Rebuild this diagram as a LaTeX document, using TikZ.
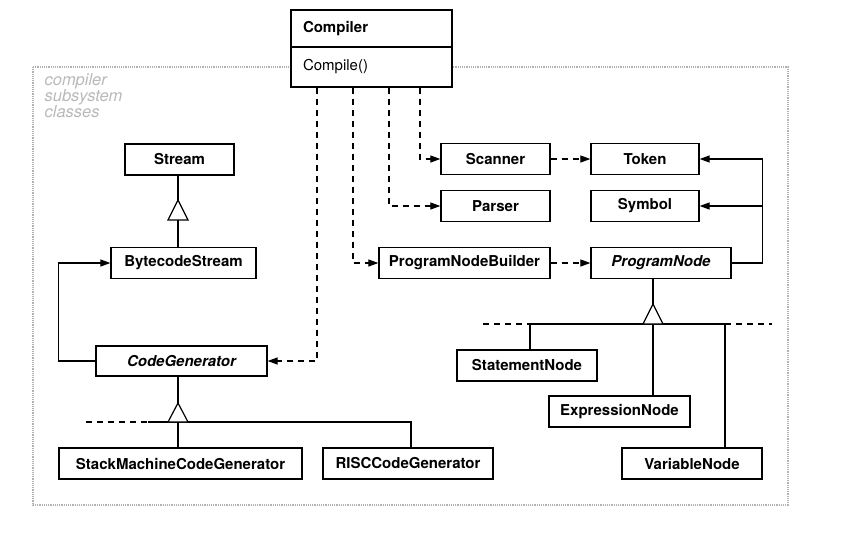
\documentclass[tikz,border=0pt]{standalone}
\usepackage{fontspec}
\setmainfont{TeX Gyre Heros}
\usetikzlibrary{arrows.meta}
\begin{document}
\begin{tikzpicture}[x=1pt,y=-1pt,line width=1.2pt,>={Triangle[length=10pt,width=7pt]},
        cls/.style={draw,fill=white,minimum height=31pt,inner sep=0pt,line width=1.3pt,font=\fontsize{15}{18}\selectfont\bfseries},
        abs/.style={cls,font=\fontsize{15}{18}\selectfont\bfseries\itshape},
        dep/.style={->,dash pattern=on 6pt off 5pt},
        ext/.style={dash pattern=on 6pt off 5pt}]
            \useasboundingbox (0,0) rectangle (843,539);
            \draw[gray!60,densely dotted] (33,67) rectangle (788,505);
            \node[gray!55,font=\fontsize{16.5}{16}\selectfont\itshape,align=left,anchor=north west,inner sep=0pt] (lbl) at (44,73) {compiler\\subsystem\\classes};
            \node[cls,minimum width=161pt,minimum height=37pt,text width=137pt,align=left] (comp) at (371.5,28.5) {Compiler};
            \node[cls,minimum width=161pt,minimum height=40pt,text width=137pt,align=left,font=\fontsize{15}{18}\selectfont] (compop) at (371.5,67) {Compile()};
            \node[cls,minimum width=109pt] (scan) at (495.5,159) {Scanner};
            \node[cls,minimum width=108pt] (token) at (645,159) {Token};
            \node[cls,minimum width=109pt] (parse) at (495.5,206) {Parser};
            \node[cls,minimum width=108pt] (symb) at (645,206) {Symbol};
            \node[cls,minimum width=171pt] (pnb) at (464.5,263) {ProgramNodeBuilder};
            \node[abs,minimum width=140pt] (pn) at (661,263) {ProgramNode};
            \node[cls,minimum width=140pt] (stmt) at (527,365.5) {StatementNode};
            \node[cls,minimum width=141pt] (expr) at (619.5,411.5) {ExpressionNode};
            \node[cls,minimum width=140pt] (var) at (692,463.5) {VariableNode};
            \node[cls,minimum width=109pt] (stream) at (179.5,159.5) {Stream};
            \node[cls,minimum width=145pt] (bcs) at (183.5,263) {BytecodeStream};
            \node[abs,minimum width=171pt,minimum height=30pt] (cg) at (181.5,361) {CodeGenerator};
            \node[cls,minimum width=243pt] (smcg) at (180.5,463.5) {StackMachineCodeGenerator};
            \node[cls,minimum width=170pt] (risc) at (408,463.5) {RISCCodeGenerator};
            \draw[dep] ([xshift=-54.5pt]compop.south) |- (cg);
            \draw[dep] ([xshift=-18.5pt]compop.south) |- (pnb);
            \draw[dep] ([xshift=17.5pt]compop.south) |- (parse);
            \draw[dep] ([xshift=48.5pt]compop.south) |- (scan);
            \draw[dep] (scan) -- (token);
            \draw[dep] (pnb) -- (pn);
            \draw[->] (pn.east) -- ++(31,0) coordinate (j) |- (token);
            \draw[->] (j) |- (symb);
            \draw[->] (cg.west) -- ++(-37,0) |- (bcs);
            \coordinate (t1) at (178,200);
            \coordinate (b1) at (178,220);
            \draw (stream.south -| t1) -- (t1);
            \draw (b1) -- (b1 |- bcs.north);
            \draw[fill=white] (t1) -- ++(-10,20) -- ++(20,0) -- cycle;
            \coordinate (t2) at (178,403);
            \coordinate (b2) at (178,422);
            \draw (cg.south -| t2) -- (t2);
            \draw (b2) -- (b2 |- smcg.north);
            \draw (b2) ++(-30,0) -| ([xshift=3pt]risc.north);
            \draw[ext] (b2) ++(-92,0) -- ++(62,0);
            \draw[fill=white] (t2) -- ++(-10,19) -- ++(20,0) -- cycle;
            \coordinate (t3) at (653,304);
            \coordinate (b3) at (653,324);
            \draw (pn.south -| t3) -- (t3);
            \draw ([xshift=3pt]stmt.north) |- (b3) -| ([xshift=33pt]var.north);
            \draw (b3) -- (b3 |- expr.north);
            \draw[ext] (b3) ++(-170,0) -- ++(47,0) (b3) ++(72,0) -- ++(47,0);
            \draw[fill=white] (t3) -- ++(-10,20) -- ++(20,0) -- cycle;
        \end{tikzpicture}
\end{document}
